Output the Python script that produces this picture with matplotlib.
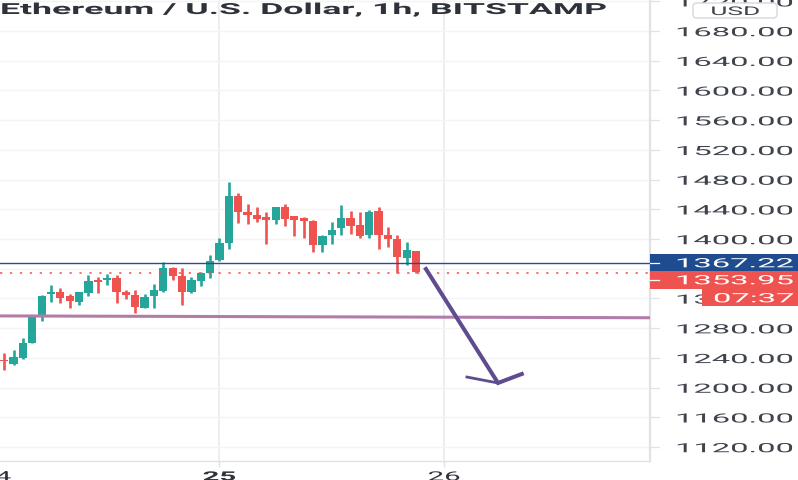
import matplotlib
matplotlib.use("Agg")
import matplotlib.pyplot as plt
from matplotlib.patches import Rectangle, FancyBboxPatch
from matplotlib.patheffects import AbstractPathEffect
from matplotlib.transforms import Affine2D

hours = list(range(-23, 22))
opens = [1237.1,1231.3,1239.4,1259.6,1296.8,1326.0,1329.1,1322.8,1315.7,1327.3,1345.3,1344.4,1347.1,1328.2,1324.6,1307.1,1322.8,1330.5,1360.5,1350.7,1328.2,1343.0,1353.8,1371.7,1394.6,
         1458.3,1435.9,1432.3,1430.0,1425.5,1442.6,1430.5,1427.8,1424.6,1392.3,1405.4,1414.8,1428.2,1418.8,1405.4,1438.1,1405.8,1400.0,1374.0,1384.3]
closes = [1235.3,1240.7,1260.0,1296.8,1323.7,1328.2,1321.1,1316.6,1328.2,1343.9,1342.6,1347.1,1328.2,1325.1,1308.9,1321.5,1331.4,1360.5,1350.7,1328.2,1345.3,1354.2,1369.9,1394.6,1458.3,
          1435.9,1432.7,1426.9,1426.0,1442.6,1426.9,1426.0,1423.8,1392.3,1404.5,1412.5,1428.2,1417.9,1403.6,1436.8,1405.4,1400.0,1376.2,1385.2,1355.1]
highs = [1246.6,1251.0,1266.3,1296.8,1324.6,1338.1,1333.6,1326.4,1328.2,1351.6,1348.4,1352.9,1351.6,1331.8,1331.4,1326.0,1339.4,1368.6,1361.9,1361.4,1348.4,1356.0,1378.9,1400.9,1476.3,
         1461.9,1447.1,1442.6,1435.9,1442.6,1447.1,1430.5,1429.1,1426.0,1405.8,1423.3,1446.2,1437.2,1436.8,1439.0,1443.5,1416.6,1405.8,1395.5,1384.3]
lows = [1223.7,1230.9,1238.5,1259.6,1290.1,1315.7,1313.4,1307.6,1311.6,1322.8,1327.3,1338.5,1314.3,1319.7,1300.4,1307.1,1307.6,1328.2,1345.3,1311.2,1327.8,1337.2,1347.1,1370.8,1386.5,
        1421.5,1420.2,1423.3,1393.2,1420.2,1417.9,1404.5,1401.3,1382.0,1382.0,1393.2,1405.8,1406.7,1400.9,1401.3,1386.5,1388.7,1353.8,1365.4,1353.8]

price_ticks = list(range(1120, 1721, 40))
last_price = 1353.95
line_price = 1367.22
support_x = [-24, 46]
support_y = [1296.5, 1294.0]
arrow_x = [22.06, 29.76, 32.3]
arrow_y = [1359.6, 1206.2, 1218.3]
head_x = [26.44, 29.76]
head_y = [1214.2, 1206.2]
day_hours = [-24, 0, 24]
day_labels = ["24", "25", "26"]
title = "Ethereum / U.S. Dollar, 1h, BITSTAMP"

GREEN, RED = "#26A69A", "#EF5350"
GRID = "#F3F4F7"
AXIS = "#E0E2E6"
ppx = 1.3461


def py(pixel_y):
    """Price at a pixel row of the picture."""
    return 1680 - (pixel_y - 32) * ppx


class Stretch(AbstractPathEffect):
    """Widen a text's glyphs about a fixed pixel column."""
    def __init__(self, x0, sx):
        super().__init__()
        self.x0, self.sx = x0, sx

    def draw_path(self, renderer, gc, tpath, affine, rgbFace=None):
        a = affine + Affine2D().translate(-self.x0, 0).scale(self.sx, 1).translate(self.x0, 0)
        renderer.draw_path(gc, tpath, a, rgbFace)


W, H = 798, 481
fig = plt.figure(figsize=(W / 100, H / 100), dpi=100, facecolor="white")
ax = fig.add_axes([0, (H - 462) / H, 650 / W, 462 / H])
ax.set_xlim(-23.45, 46.0)
ax.set_ylim(py(462), py(0))
for s in ("top", "left"):
    ax.spines[s].set_visible(False)
ax.spines["right"].set_color(AXIS)
ax.spines["right"].set_linewidth(1.6)
ax.spines["bottom"].set_color(AXIS)
ax.spines["bottom"].set_linewidth(1.0)
ax.set_yticks(price_ticks)
ax.set_xticks([d for d in day_hours if d >= -23])
ax.tick_params(left=False, labelleft=False, labelbottom=False, bottom=True,
               length=4, color=AXIS, width=1)
ax.grid(True, axis="y", color=GRID, lw=1.0)
ax.grid(True, axis="x", color="#EDEEF1", lw=1.4)
ax.set_axisbelow(True)

colors = [GREEN if c >= o else RED for o, c in zip(opens, closes)]
ax.vlines(hours, lows, highs, colors=colors, lw=1.9, zorder=3)
ax.bar(hours, [max(abs(c - o), 1.6) for o, c in zip(opens, closes)],
       bottom=[min(o, c) for o, c in zip(opens, closes)],
       width=0.88, color=colors, zorder=3)

ax.axhline(line_price, color="#2B4C95", lw=1.0, zorder=4)
ax.axhline(last_price, color=RED, lw=1.1, ls=(0, (1.5, 5)), zorder=4)
ax.plot(support_x, support_y, color="#B27CA9", lw=2.2, zorder=4, solid_capstyle="butt")
ax.plot(arrow_x, arrow_y, color="#5F4B8F", lw=2.9, zorder=5, solid_joinstyle="miter")
ax.plot(head_x, head_y, color="#5F4B8F", lw=2.0, zorder=5)

# right-hand price scale
axr = fig.add_axes([650 / W, (H - 462) / H, 148 / W, 462 / H], sharey=ax)
axr.set_xlim(0, 148)
axr.axis("off")
txt_drop = 1.7 * ppx
for p in price_ticks:
    axr.plot([0, 9], [p, p], color=AXIS, lw=0.9, zorder=1)
    if p != 1360:
        axr.text(25, p - txt_drop, f"{p}.00", fontsize=9.2, family="Roboto", color="#3F434C", va="center", ha="left",
                 path_effects=[Stretch(675, 2.56)], zorder=2, clip_on=True)


def box(x0, x1, top, bottom, color):
    axr.add_patch(Rectangle((x0, py(bottom)), x1 - x0, (bottom - top) * ppx, color=color, lw=0, zorder=5))


box(0, 148, 255, 272, "#1F4C8F")
box(0, 148, 272, 289.5, RED)
box(52, 148, 290, 307, RED)
axr.plot([0, 9], [line_price] * 2, color="white", lw=0.9, zorder=6)
axr.plot([0, 9], [py(280.5)] * 2, color="white", lw=0.9, zorder=6)
for txt, y, x in [("1367.22", 263.5, 25), ("1353.95", 280.5, 25), ("07:37", 298.5, 63)]:
    axr.text(x, py(y) - txt_drop * 0.75, txt, fontsize=9.2, family="Roboto", color="white", va="center", ha="left",
             path_effects=[Stretch(650 + x, 2.56)], zorder=7)

usd = fig.add_axes([0, 0, 1, 1], facecolor="none")
usd.set_xlim(0, W)
usd.set_ylim(H, 0)
usd.axis("off")
usd.add_patch(FancyBboxPatch((693, 4), 84, 15, boxstyle="round,pad=0,rounding_size=4",
                             fc="white", ec="#D9DBDF", lw=1.1, zorder=8))
usd.text(735, 12.5, "USD", fontsize=8.6, family="Roboto", color="#3F434C", ha="center", va="center",
         path_effects=[Stretch(735, 2.2)], zorder=9)

# title and date labels
usd.text(0, 11, title, fontsize=11, family="Roboto", weight="bold", color="#2E323B", ha="left", va="center",
         path_effects=[Stretch(0, 2.33)], zorder=9)
for d, lab in zip(day_hours, day_labels):
    px = 219.5 + 9.36 * d
    usd.text(px, 478, lab, fontsize=9.2, family="Roboto",
             weight="bold" if lab == "25" else "normal", color="#2E323B",
             ha="center", va="center", path_effects=[Stretch(px, 2.3)], zorder=9)

fig.savefig("out.png", dpi=100)
